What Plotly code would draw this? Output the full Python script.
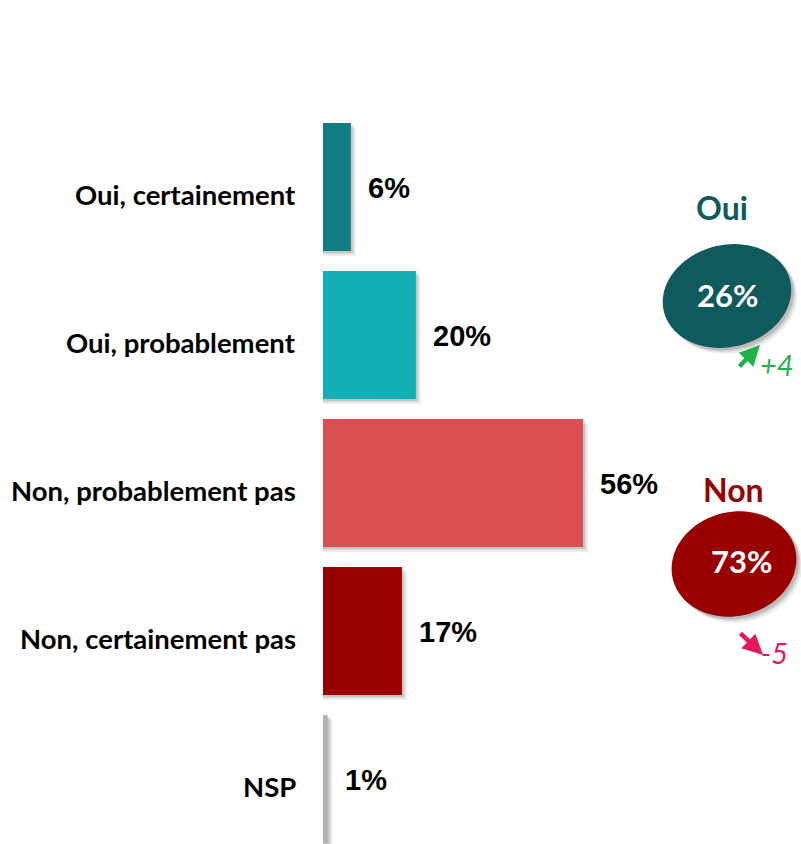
import numpy as np
import plotly.graph_objects as go

# ---------------- data ----------------
categories = ["Oui, certainement", "Oui, probablement", "Non, probablement pas",
              "Non, certainement pas", "NSP"]
values = [6, 20, 56, 17, 1]
value_labels = ["6%", "20%", "56%", "17%", "1%"]
bar_colors = ["#127c84", "#13afb6", "#d94f52", "#990000", "#b3b3b3"]

summary_titles = ["Oui", "Non"]
summary_values = ["26%", "73%"]
summary_changes = ["+4", "-5"]
summary_colors = ["#0e5a5c", "#990000"]
change_colors = ["#1fb14a", "#e8175d"]

# ---------------- geometry ----------------
W, H = 801, 844
ML, MR, MT, MB = 323, 0, 113, 0
PW, PH = W - ML - MR, H - MT - MB
PX_PER_UNIT = 260 / 56.0
XMAX = PW / PX_PER_UNIT
BAR_W = 128 / 148.0


def paper(px, py):
    return (px - ML) / PW, (H - py) / PH


fig = go.Figure()

# soft shadows behind bars (derived from values)
for dx, alpha in [(5, 0.06), (3.5, 0.08), (2, 0.10)]:
    fig.add_trace(go.Bar(
        y=categories, x=[v + dx / PX_PER_UNIT for v in values], orientation="h",
        width=BAR_W, offset=-BAR_W / 2 + dx / 148.0,
        marker=dict(color=f"rgba(0,0,0,{alpha})", line=dict(width=0)),
        hoverinfo="skip", showlegend=False))

fig.add_trace(go.Bar(
    y=categories, x=values, orientation="h", width=BAR_W, offset=-BAR_W / 2,
    marker=dict(color=bar_colors, line=dict(width=0)),
    showlegend=False))

annotations = []
for c, v, lab in zip(categories, values, value_labels):
    annotations.append(dict(
        x=v, y=c, xref="x", yref="y", text=f"<b>{lab}</b>", showarrow=False,
        xanchor="left", yanchor="middle", xshift=15, yshift=-1,
        font=dict(family="Liberation Sans, Arial", size=29, color="#000000")))
    # category labels
    annotations.append(dict(
        x=0, y=c, xref="paper", yref="y", text=f"<b>{c}</b>", showarrow=False,
        xanchor="right", yanchor="middle", xshift=-25, yshift=-7,
        font=dict(family="Lato", size=27.5, color="#000000")))

shapes = []


def ellipse_path(cx, cy, rx, ry, theta_deg, n=90):
    th = np.deg2rad(theta_deg)
    t = np.linspace(0, 2 * np.pi, n, endpoint=False)
    xs = cx + rx * np.cos(t) * np.cos(th) - ry * np.sin(t) * np.sin(th)
    ys = cy + rx * np.cos(t) * np.sin(th) + ry * np.sin(t) * np.cos(th)
    pts = [paper(x, y) for x, y in zip(xs, ys)]
    return "M " + " L ".join(f"{a:.5f},{b:.5f}" for a, b in pts) + " Z"


ell = [
    dict(cx=727, cy=296, rx=65, ry=51, rot=-14, title_xy=(722, 207), val_xy=(727, 295),
         arrow_head=(760, 345), arrow_tail=(738, 368), chg_xy=(777, 364)),
    dict(cx=734, cy=564, rx=63, ry=52, rot=-14, title_xy=(733, 489), val_xy=(741, 561),
         arrow_head=(763, 655), arrow_tail=(739, 632), chg_xy=(774, 652)),
]

for i, e in enumerate(ell):
    for dx, alpha in [(6, 0.07), (4, 0.10), (2.5, 0.12)]:
        shapes.append(dict(type="path", xref="paper", yref="paper",
                           path=ellipse_path(e["cx"] + dx, e["cy"] + dx, e["rx"], e["ry"], e["rot"]),
                           fillcolor=f"rgba(0,0,0,{alpha})", line=dict(width=0), layer="below"))
    shapes.append(dict(type="path", xref="paper", yref="paper",
                       path=ellipse_path(e["cx"], e["cy"], e["rx"], e["ry"], e["rot"]),
                       fillcolor=summary_colors[i], line=dict(width=0), layer="above"))
    tx, ty = paper(*e["title_xy"])
    annotations.append(dict(x=tx, y=ty, xref="paper", yref="paper",
                            xanchor="center", yanchor="middle",
                            text=f"<b>{summary_titles[i]}</b>", showarrow=False,
                            font=dict(family="Lato", size=32, color=summary_colors[i])))
    vx, vy = paper(*e["val_xy"])
    annotations.append(dict(x=vx, y=vy, xref="paper", yref="paper",
                            xanchor="center", yanchor="middle",
                            text=f"<b>{summary_values[i]}</b>", showarrow=False,
                            font=dict(family="Lato", size=31, color="#ffffff")))
    hx, hy = paper(*e["arrow_head"])
    annotations.append(dict(x=hx, y=hy, xref="paper", yref="paper", text="",
                            showarrow=True, arrowhead=2, arrowsize=0.9, arrowwidth=4.5,
                            arrowcolor=change_colors[i],
                            ax=e["arrow_tail"][0] - e["arrow_head"][0],
                            ay=e["arrow_tail"][1] - e["arrow_head"][1]))
    cx_, cy_ = paper(*e["chg_xy"])
    annotations.append(dict(x=cx_, y=cy_, xref="paper", yref="paper",
                            xanchor="center", yanchor="middle",
                            text=f"<i>{summary_changes[i]}</i>", showarrow=False,
                            font=dict(family="Lato", size=29, color=change_colors[i])))

fig.update_layout(
    width=W, height=H, margin=dict(l=ML, r=MR, t=MT, b=MB, autoexpand=False),
    paper_bgcolor="#ffffff", plot_bgcolor="#ffffff",
    barmode="overlay", showlegend=False,
    xaxis=dict(range=[0, XMAX], visible=False, fixedrange=True),
    yaxis=dict(type="category", categoryorder="array", categoryarray=categories,
               range=[4.5 - 9 / 148.0, -0.5], showgrid=False, zeroline=False,
               showline=False, ticks="", showticklabels=False),
    shapes=shapes, annotations=annotations,
)

fig.write_html("out.html")
